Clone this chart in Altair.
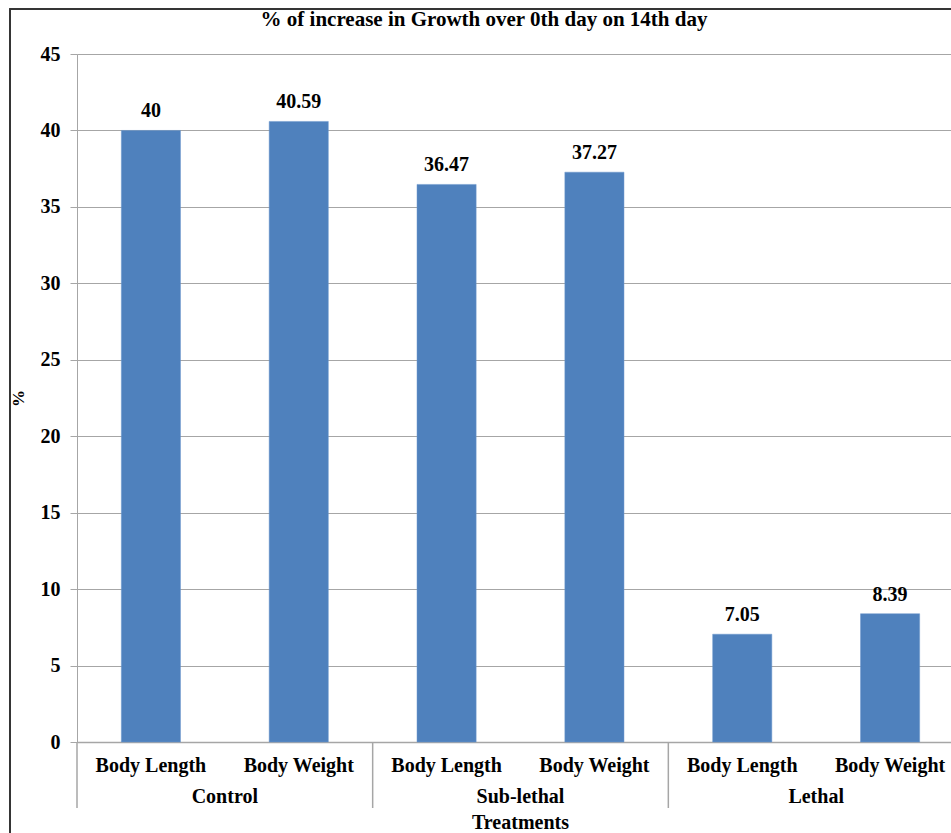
import altair as alt
import pandas as pd

groups = ["Control", "Control", "Sub-lethal", "Sub-lethal", "Lethal", "Lethal"]
measures = ["Body Length", "Body Weight", "Body Length", "Body Weight", "Body Length", "Body Weight"]
values = [40, 40.59, 36.47, 37.27, 7.05, 8.39]
value_labels = ["40", "40.59", "36.47", "37.27", "7.05", "8.39"]
group_names = ["Control", "Sub-lethal", "Lethal"]
title_text = ["% of increase in Growth over 0th day on 14th day"]

keys = [f"{g}|{m}" for g, m in zip(groups, measures)]
df = pd.DataFrame({"key": keys, "group": groups, "measure": measures,
                   "value": values, "label": value_labels})
gdf = pd.DataFrame({"group": group_names})
tdf = pd.DataFrame({"t": title_text})

FONT = "Liberation Serif"
W, H = 874, 688
FULL = 887

xscale = alt.Scale(domain=keys, paddingInner=0.6, paddingOuter=0.3, range=[0, FULL])
x_bar = alt.X("key:N", sort=keys, title="Treatments", scale=xscale,
              axis=alt.Axis(labelExpr="split(datum.label, '|')[1]", labelAngle=0,
                            labelFont=FONT, labelFontWeight="bold", labelFontSize=20,
                            labelColor="black", labelPadding=13, ticks=False,
                            domainColor="#a6a6a6", domainWidth=1.5,
                            titleFont=FONT, titleFontWeight="bold", titleFontSize=20,
                            titleColor="black", titleX=443, titleY=80,
                            titleBaseline="middle", titleAlign="center"))
y_enc = alt.Y("value:Q", title="%",
              scale=alt.Scale(domain=[0, 45], nice=False),
              axis=alt.Axis(values=list(range(0, 46, 5)), tickSize=7, tickColor="#a6a6a6",
                            labelFont=FONT, labelFontWeight="bold", labelFontSize=20,
                            labelColor="black", labelPadding=10,
                            gridColor="#a6a6a6", domainColor="#a6a6a6",
                            titleFont=FONT, titleFontWeight="bold", titleFontSize=17,
                            titleColor="black", titleX=-59, titleY=344,
                            titleBaseline="middle", titleAlign="center"))

bars = alt.Chart(df).mark_bar(color="#4f81bd", stroke="#6a96cc", strokeWidth=0.5).encode(
    x=x_bar, y=y_enc)

texts = alt.Chart(df).mark_text(font=FONT, fontWeight="bold", fontSize=20, color="black",
                                baseline="bottom", dy=-9).encode(
    x=alt.X("key:N", sort=keys, scale=xscale), y="value:Q", text="label:N")

main = alt.layer(bars, texts)

gscale = alt.Scale(domain=group_names, paddingInner=0, paddingOuter=0, range=[0, FULL])
glabels = alt.Chart(gdf).mark_text(font=FONT, fontWeight="bold", fontSize=20, color="black",
                                   baseline="middle").encode(
    x=alt.X("group:N", sort=group_names, scale=gscale, axis=None),
    y=alt.value(743), text="group:N")

seps = alt.Chart(gdf).mark_rule(color="#a6a6a6", strokeWidth=1.5).encode(
    x=alt.X("group:N", sort=group_names, scale=gscale, axis=None, bandPosition=0),
    y=alt.value(H), y2=alt.value(H + 66))

frame = alt.Chart(gdf).mark_rect(fill=None, stroke="#333333", strokeWidth=1.5).encode(
    x=alt.value(-67), x2=alt.value(1000), y=alt.value(-45), y2=alt.value(900))

title = alt.Chart(tdf).mark_text(font=FONT, fontWeight="bold", fontSize=21, color="black",
                                 baseline="middle", align="center").encode(
    x=alt.value(407), y=alt.value(-34), text="t:N")

chart = alt.layer(main, glabels, seps, frame, title).resolve_scale(x="independent").properties(
    width=W, height=H,
    autosize=alt.AutoSizeParams(type="none"),
    padding={"left": 77, "top": 54, "right": 0, "bottom": 91},
).configure_view(stroke=None).configure(background="white")

chart.save("out.html", embed_options={"renderer": "svg", "actions": False})
